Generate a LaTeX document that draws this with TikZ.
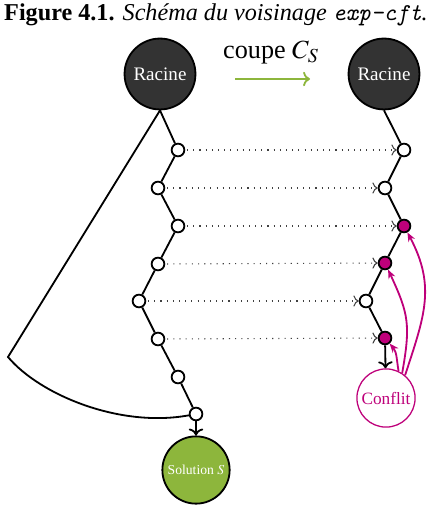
\documentclass[tikz,border=0pt]{standalone}
\usepackage{mathptmx}
\usepackage{fontspec}
\setmainfont{Liberation Serif}
\usetikzlibrary{arrows.meta}

\definecolor{racinegris}{RGB}{51,51,51}
\definecolor{conflitmagenta}{RGB}{190,0,122}
\definecolor{solutionvert}{RGB}{141,182,60}

\tikzset{
  lien/.style={line width=1pt},
  racine/.style={circle, draw, line width=1pt, fill=racinegris, text=white, minimum size=39pt, inner sep=0pt, font=\fontsize{10.5}{12}\selectfont},
  noeud/.style={circle, draw, line width=1pt, fill=white, minimum size=7pt, inner sep=0pt},
  noeudconflit/.style={noeud, fill=conflitmagenta},
  solution/.style={circle, draw, line width=1pt, fill=solutionvert, text=white, minimum size=37pt, inner sep=0pt, font=\fontsize{7.5}{9}\selectfont},
  conflit/.style={circle, draw=conflitmagenta, line width=0.7pt, fill=white, text=conflitmagenta, minimum size=32pt, inner sep=0pt, font=\fontsize{9.5}{11}\selectfont},
  pointille/.style={dash pattern=on 0.6pt off 2.8pt, black!75, line width=0.6pt, ->, shorten <=1pt},
  retour/.style={conflitmagenta, line width=1pt, -{Stealth[length=5pt,width=4pt]}}
}

\begin{document}
\begin{tikzpicture}[x=0.55pt, y=-0.55pt]
\useasboundingbox (0,0) rectangle (427,506);
\node (titre) at (216,15) {\fontsize{13.3}{16}\selectfont\textbf{Figure 4.1.} \textit{Schéma du voisinage \texttt{exp-cft}.}};

% les deux racines
\node[racine] (racineG) at (160,74) {Racine};
\node[racine] (racineD) at (384,74) {Racine};
\node (coupe) at (271,52) {\Large coupe $C_S$};
\draw [->, solutionvert, line width=1pt] (235,79) -- (310,79);

% branche de gauche
\foreach \i/\x/\y in {1/178/150, 2/158/188, 3/178/226, 4/158/264, 5/139/301, 6/158/339, 7/178/377, 8/196/414}
  \node[noeud] (G\i) at (\x,\y) {};
\draw[lien] (racineG.south) -- (G1) -- (G2) -- (G3) -- (G4) -- (G5) -- (G6) -- (G7) -- (G8);
\coordinate (coude) at (8,357);
\draw[lien] (racineG.south) -- (coude) .. controls (40,395) and (120,428) .. (G8);
\node[solution] (solution) at (196,470) {Solution $S$};
\draw[lien, ->] (G8) -- (solution);

% branche de droite
\node[noeud] (D1) at (404,150) {};
\node[noeud] (D2) at (385,188) {};
\node[noeudconflit] (D3) at (404,226) {};
\node[noeudconflit] (D4) at (385,263) {};
\node[noeud] (D5) at (366,301) {};
\node[noeudconflit] (D6) at (385,338) {};
\draw[lien] (racineD.south) -- (D1) -- (D2) -- (D3) -- (D4) -- (D5) -- (D6);
\node[conflit] (conflit) at (386,398) {Conflit};
\draw[lien, ->] (D6) -- (conflit);

\foreach \i in {1,...,6} \draw[pointille] (G\i) -- (D\i);

% retours du conflit
\draw[retour] (conflit.65) to[out=100, in=-50] (D6);
\draw[retour] (conflit.57) to[out=80, in=-65, looseness=1.2] (D4);
\draw[retour] (conflit.50) to[out=72, in=-62, looseness=1.1] (D3);
\end{tikzpicture}
\end{document}
